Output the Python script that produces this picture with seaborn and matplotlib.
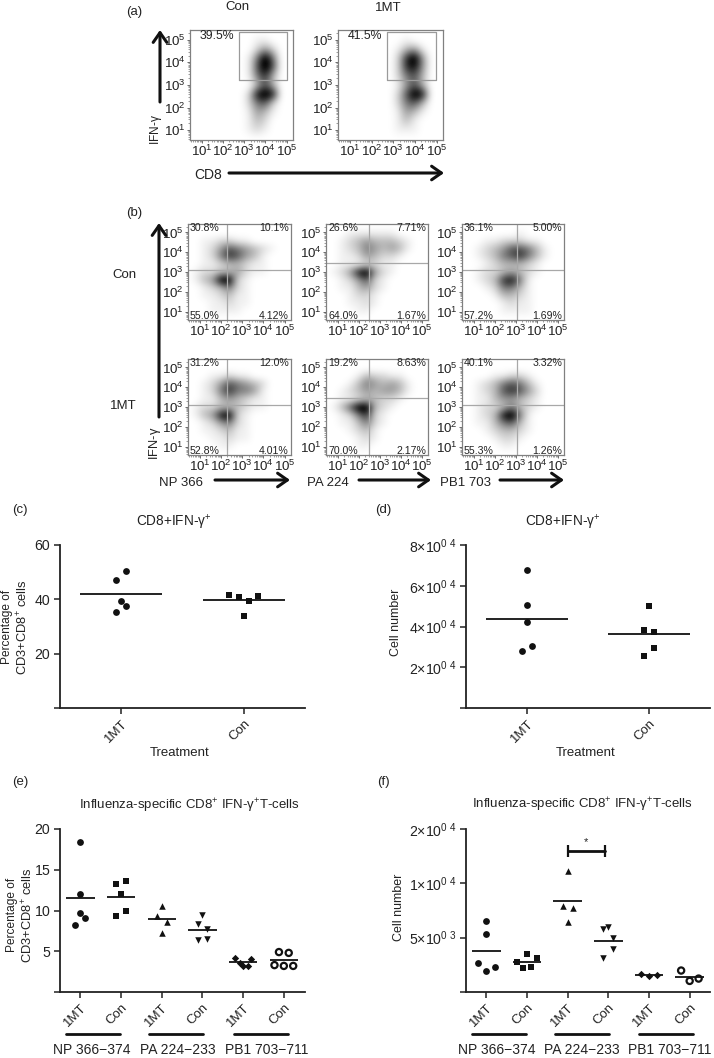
import numpy as np
import matplotlib
matplotlib.use("Agg")
import matplotlib.pyplot as plt
from matplotlib.colors import PowerNorm
import seaborn as sns

# -----------------------------
# SETUP
# -----------------------------
sns.set_theme(style="ticks")
plt.rcParams['font.family'] = ['Liberation Sans', 'DejaVu Sans']
plt.rcParams['mathtext.fontset'] = 'custom'
plt.rcParams['mathtext.rm'] = 'Liberation Sans'
plt.rcParams['mathtext.it'] = 'Liberation Sans:italic'
plt.rcParams['mathtext.default'] = 'regular'

INK = "#222222"
W, H = 714, 1058

# -----------------------------
# DATA: flow panels
# density read by eye, 0-9, rows from y=10^5.4 down to 10^0.6, columns x=10^0.4 to 10^5.2
# -----------------------------
a_con = ["0000000000000", "0000000011000", "0000000024200", "0000000159500", "0000000169600",
         "0000000157300", "0000000036300", "0000000289800", "0000000256200", "0000000143100",
         "0000000132000", "0000000121000", "0000000000000"]
a_mt = ["0000000000000", "0000000010000", "0000000134100", "0000000279400", "0000000278400",
        "0000000256300", "0000000146300", "0000000269800", "0000000256300", "0000000143100",
        "0000000131000", "0000000111000", "0000000000000"]
b_con_np = ["0000000000000", "0000000000000", "0011221100000", "0012465432100", "0012576431000",
            "0011233211000", "0122334211000", "0134992100000", "0012352100000", "0011231100000",
            "0001121100000", "0001111000000", "0000000000000"]
b_con_pa = ["0000000000000", "0001111110000", "0012343332100", "0012354343100", "0011243221000",
            "0011122110000", "0124894210000", "0012462100000", "0011342100000", "0001221000000",
            "0001121000000", "0000110000000", "0000000000000"]
b_con_pb = ["0000000000000", "0000000100000", "0001122211000", "0012346653100", "0012356753100",
            "0001233321000", "0012234321000", "0012378510000", "0001255310000", "0000133210000",
            "0000012110000", "0000011110000", "0000000000000"]
b_mt_np = ["0000000000000", "0000000000000", "0001121100000", "0012465432000", "0012575541000",
           "0011343211000", "0122333211000", "0134892100000", "0012452100000", "0011231100000",
           "0001121100000", "0000110000000", "0000000000000"]
b_mt_pa = ["0000000000000", "0000000000000", "0000132211000", "0001354343100", "0012343443100",
           "0011233221000", "0136993210000", "0012572100000", "0011352100000", "0001231000000",
           "0000121000000", "0000110000000", "0000000000000"]
b_mt_pb = ["0000000000000", "0000000000000", "0000112210000", "0012356531000", "0012367642000",
           "0011344321000", "0012235321000", "0012389510000", "0011356310000", "0001233210000",
           "0000122100000", "0000011000000", "0000000000000"]

a_pct = ["39.5%", "41.5%"]
b_con_pct = [("30.8%", "10.1%", "55.0%", "4.12%"), ("26.6%", "7.71%", "64.0%", "1.67%"), ("36.1%", "5.00%", "57.2%", "1.69%")]
b_mt_pct = [("31.2%", "12.0%", "52.8%", "4.01%"), ("19.2%", "8.63%", "70.0%", "2.17%"), ("40.1%", "3.32%", "55.3%", "1.26%")]
a_gate_x = [2.77, 2.72]
a_gate_y = (3.2, 5.36)
b_gate_con = [(2.3, 3.08), (2.48, 3.45), (3.07, 3.1)]
b_gate_mt = [(2.3, 3.08), (2.48, 3.45), (3.08, 3.08)]
decades = [1, 2, 3, 4, 5]

# -----------------------------
# DATA: dot panels
# -----------------------------
treat = ["1MT", "Con"]
c_vals = [[50.4, 47.1, 39.4, 37.7, 35.5], [41.5, 40.9, 39.4, 41.3, 34.0]]
c_offs = [[0.04, -0.04, 0, 0.04, -0.04], [-0.12, -0.04, 0.04, 0.12, 0]]
c_means = [42.0, 39.7]
d_vals = [[6.76, 5.06, 4.2, 3.05, 2.82], [5.01, 3.84, 3.74, 2.94, 2.56]]
d_offs = [[0, 0, 0, 0.04, -0.04], [0, -0.04, 0.04, 0.04, -0.04]]
d_means = [4.39, 3.64]

groups = ["1MT", "Con", "1MT", "Con", "1MT", "Con"]
peptides = ["NP 366\u2212374", "PA 224\u2212233", "PB1 703\u2212711"]
e_vals = [[18.4, 12.0, 9.75, 9.06, 8.2], [13.6, 13.2, 12.0, 10.0, 9.3], [10.6, 9.3, 8.6, 7.2],
          [9.4, 8.4, 7.7, 6.35, 6.5], [4.2, 4.05, 3.55, 3.25, 3.25], [4.9, 4.8, 3.3, 3.2, 3.2]]
e_offs = [[0, 0, 0, 0.12, -0.12], [0.12, -0.12, 0, 0.12, -0.12], [0, -0.12, 0.12, 0],
          [0, -0.12, 0.12, -0.12, 0.12], [-0.2, 0.2, -0.08, 0, 0.11], [-0.12, 0.12, -0.23, 0, 0.23]]
e_means = [11.5, 11.7, 9.0, 7.65, 3.7, 3.97]
f_vals = [[6540, 5310, 2685, 2285, 1915], [3460, 3120, 2750, 2250, 2285], [11110, 7900, 7715, 6420],
          [5960, 5770, 5000, 3950, 3150], [1635, 1480, 1575], [1975, 1020, 1235]]
f_offs = [[0, 0, -0.21, 0.21, 0], [0, 0.25, -0.25, -0.09, 0.1], [0, -0.12, 0.12, 0],
          [0, -0.12, 0.12, 0.12, -0.12], [-0.2, 0, 0.2], [-0.21, 0, 0.22]]
f_means = [3800, 2780, 8360, 4720, 1600, 1390]
f_sig = (0, 0.93, 12930)
markers = ["o", "s", "^", "v", "D", "o"]


# -----------------------------
# HELPERS
# -----------------------------
fig = plt.figure(figsize=(W / 100, H / 100), dpi=100)


def box(left, top, right, bottom):
    return fig.add_axes([left / W, 1 - bottom / H, (right - left) / W, (bottom - top) / H])


def label(x, y, s, size=9.5, rot=0, ha="center"):
    fig.text(x / W, 1 - y / H, s, fontsize=size, color=INK, ha=ha, va="center", rotation=rot)


def arrow(x0, y0, x1, y1):
    fig.add_artist(matplotlib.patches.FancyArrowPatch(
        (x0 / W, 1 - y0 / H), (x1 / W, 1 - y1 / H), transform=fig.transFigure,
        arrowstyle="->,head_length=5,head_width=3.5", lw=2.2, color="#111111",
        shrinkA=0, shrinkB=0, mutation_scale=1.4))


def flow(rect, rows):
    ax = box(*rect)
    grid = np.array([[int(c) for c in r] for r in rows])
    ax.imshow(grid, cmap="gray_r", norm=PowerNorm(1.35, vmin=0, vmax=8), interpolation="bicubic", aspect="auto",
              extent=(0.2, 5.4, 0.4, 5.6), zorder=1)
    ax.set_xlim(0.45, 5.3)
    ax.set_ylim(0.57, 5.43)
    ax.set_xticks(decades)
    ax.set_yticks(decades)
    ax.set_xticklabels([f"$10^{d}$" for d in decades], fontsize=9.6, color=INK)
    ax.set_yticklabels([f"$10^{d}$" for d in decades], fontsize=9.6, color=INK)
    minor = [d + np.log10(m) for d in range(0, 6) for m in range(2, 10)]
    ax.set_xticks([m for m in minor if 0.45 < m < 5.3], minor=True)
    ax.set_yticks([m for m in minor if 0.57 < m < 5.43], minor=True)
    ax.tick_params(length=2, width=0.6, pad=1, color="#555555")
    ax.tick_params(which="minor", length=1.2, width=0.4, color="#555555")
    for s in ax.spines.values():
        s.set_color("#808080")
        s.set_linewidth(0.9)
    return ax


def dots(rect, vals, offs, means, names, marks, ylim, yticks, yticklabels, right):
    ax = box(*rect)
    for i, (v, o) in enumerate(zip(vals, offs)):
        xs = i + np.array(o)
        if marks[i] == "o" and i == 5:
            sns.scatterplot(x=xs, y=v, marker="o", s=20, facecolor="none", edgecolor="#111111",
                            linewidth=1.6, ax=ax, legend=False, zorder=3, clip_on=False)
        else:
            size = {"o": 24, "s": 24, "D": 14}.get(marks[i], 22)
            sns.scatterplot(x=xs, y=v, marker=marks[i], s=size, color="#111111",
                            linewidth=0, ax=ax, legend=False, zorder=3, clip_on=False)
    half = 0.335 if len(vals) == 2 else 0.35
    ax.hlines(means, np.arange(len(vals)) - half, np.arange(len(vals)) + half, color="#222222", lw=1.4, zorder=2)
    ax.set_xlim(-0.5, right)
    ax.set_ylim(*ylim)
    ax.set_yticks(yticks)
    ax.set_yticklabels(yticklabels, fontsize=10.2, color=INK)
    ax.set_xticks(range(len(vals)))
    ax.set_xticklabels(names, rotation=45, ha="right", rotation_mode="anchor", fontsize=9.5, color=INK)
    ax.tick_params(length=4, width=1.1, pad=3, color="#222222")
    sns.despine(ax=ax)
    for s in ("left", "bottom"):
        ax.spines[s].set_linewidth(1.3)
        ax.spines[s].set_color("#222222")
    return ax


# -----------------------------
# (a) GATED CD8 PLOTS
# -----------------------------
label(134, 12, "(a)")
label(237, 7, "Con")
label(388, 8, "1MT")
for rect, rows, pct, gx in zip([(190, 30, 293, 140), (338, 30, 443, 140)], [a_con, a_mt], a_pct, a_gate_x):
    ax = flow(rect, rows)
    ax.plot([gx, gx, gx + 2.25, gx + 2.25, gx], [a_gate_y[0], a_gate_y[1], a_gate_y[1], a_gate_y[0], a_gate_y[0]],
            color="#9a9a9a", lw=0.9, zorder=2)
    ax.text(0.09, 0.945, pct, transform=ax.transAxes, fontsize=8.8, color=INK, va="center")
arrow(160, 102, 160, 30)
arrow(229, 173, 444, 173)
label(208, 175, "CD8", 10)
label(156, 130, "IFN-$\\gamma$", 8.6, rot=90)

# -----------------------------
# (b) QUADRANT PLOTS
# -----------------------------
label(134, 213, "(b)")
label(124, 275, "Con")
label(123, 406, "1MT")
tops = [(224, 320), (359, 455)]
lefts = [(188, 291), (326, 428), (462, 564)]
rows_b = [[b_con_np, b_con_pa, b_con_pb], [b_mt_np, b_mt_pa, b_mt_pb]]
pct_b = [b_con_pct, b_mt_pct]
gate_b = [b_gate_con, b_gate_mt]
for r, (t, b) in enumerate(tops):
    for c, (l, rr) in enumerate(lefts):
        ax = flow((l, t, rr, b), rows_b[r][c])
        ax.axvline(gate_b[r][c][0], color="#a8a8a8", lw=0.9, zorder=2)
        ax.axhline(gate_b[r][c][1], color="#a8a8a8", lw=0.9, zorder=2)
        p = pct_b[r][c]
        ax.text(0.02, 0.955, p[0], transform=ax.transAxes, fontsize=7.6, color=INK, va="center")
        ax.text(0.98, 0.955, p[1], transform=ax.transAxes, fontsize=7.6, color=INK, va="center", ha="right")
        ax.text(0.02, 0.045, p[2], transform=ax.transAxes, fontsize=7.6, color=INK, va="center")
        ax.text(0.98, 0.045, p[3], transform=ax.transAxes, fontsize=7.6, color=INK, va="center", ha="right")
arrow(159, 417, 159, 223)
label(155, 443, "IFN-$\\gamma$", 9.3, rot=90)
label(181, 483, "NP 366")
arrow(215, 480, 290, 480)
label(328, 483, "PA 224")
arrow(359, 480, 431, 480)
label(466, 483, "PB1 703")
arrow(500, 480, 564, 480)

# -----------------------------
# (c) (d) TREATMENT PANELS
# -----------------------------
label(20, 510, "(c)")
label(174, 522, "CD8+IFN-$\\gamma^{+}$", 9.8)
dots((60, 545, 305, 708), c_vals, c_offs, c_means, treat, ["o", "s"], (0, 60), [0, 20, 40, 60], ["", "20", "40", "60"], 1.5)
label(7, 627, "Percentage of", 8.6, rot=90)
label(23, 627, "CD3+CD8$^{+}$ cells", 9.3, rot=90)
label(180, 753, "Treatment", 9.5)

label(383, 510, "(d)")
label(563, 522, "CD8+IFN-$\\gamma^{+}$", 9.8)
dots((466, 545, 710, 708), d_vals, d_offs, d_means, treat, ["o", "s"], (0, 8), [0, 2, 4, 6, 8],
     ["", "2×10$^{0\\ 4}$", "4×10$^{0\\ 4}$", "6×10$^{0\\ 4}$", "8×10$^{0\\ 4}$"], 1.5)
label(396, 622, "Cell number", 9, rot=90)
label(586, 753, "Treatment", 9.5)

# -----------------------------
# (e) (f) PEPTIDE PANELS
# -----------------------------
label(20, 782, "(e)")
label(189, 806, "Influenza-specific CD8$^{+}$ IFN-$\\gamma^{+}$T-cells", 9.5)
dots((60, 829, 305, 992), e_vals, e_offs, e_means, groups, markers, (0, 20), [0, 5, 10, 15, 20], ["", "5", "10", "15", "20"], 5.52)
label(12, 915, "Percentage of", 8.6, rot=90)
label(28, 915, "CD3+CD8$^{+}$ cells", 9.3, rot=90)

label(383, 782, "(f)")
label(582, 805, "Influenza-specific CD8$^{+}$ IFN-$\\gamma^{+}$T-cells", 9.5)
ax = dots((466, 829, 710, 992), f_vals, f_offs, f_means, groups, markers, (0, 15000), [0, 5000, 10000, 15000],
          ["", "5×10$^{0\\ 3}$", "1×10$^{0\\ 4}$", "2×10$^{0\\ 4}$"], 5.5)
ax.plot([2 + f_sig[0], 2 + f_sig[1]], [f_sig[2], f_sig[2]], color="#111111", lw=2, marker="|", ms=8, mew=1.6)
ax.text(2.44, 13800, "*", fontsize=8, ha="center", va="center", color=INK)
label(399, 907, "Cell number", 9, rot=90)

# peptide bars under the tick labels
for (x0, x1), cx, s in zip([(66, 120), (149, 203), (234, 288)], [92, 178, 267], peptides):
    fig.add_artist(plt.Line2D([x0 / W, x1 / W], [1 - 1034 / H] * 2, color="#111111", lw=2))
    label(cx, 1050, s, 10)
for (x0, x1), cx, s in zip([(472, 526), (555, 609), (639, 693)], [497, 582, 670], peptides):
    fig.add_artist(plt.Line2D([x0 / W, x1 / W], [1 - 1034 / H] * 2, color="#111111", lw=2))
    label(cx, 1050, s, 10)

fig.savefig("out.png", dpi=100)
plt.close()
